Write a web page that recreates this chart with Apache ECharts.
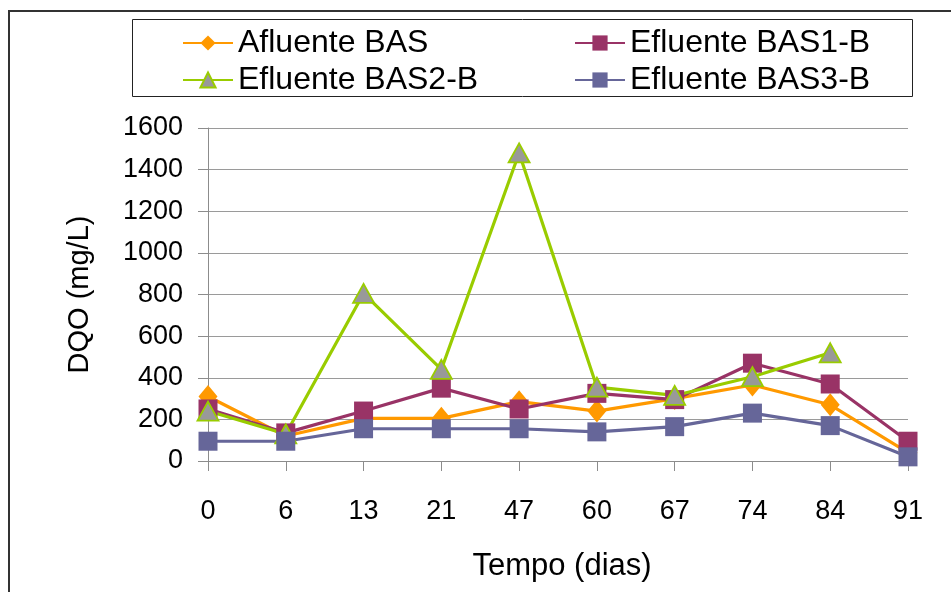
<!DOCTYPE html>
<html>
<head>
<meta charset="utf-8">
<script src="https://cdn.jsdelivr.net/npm/echarts@6/dist/echarts.min.js"></script>
<style>
  html, body { margin: 0; padding: 0; background: #fff; }
  #chart { width: 951px; height: 592px; }
</style>
</head>
<body>
<div id="chart"></div>
<script>
// Sampling days
const days = ['0', '6', '13', '21', '47', '60', '67', '74', '84', '91'];

// DQO (mg/L) per sample
const afluenteBAS   = [310, 120, 205, 205, 285, 240, 300, 365, 270, 40];
const efluenteBAS1B = [250, 135, 240, 350, 250, 325, 295, 470, 370, 95];
const efluenteBAS2B = [240, 130, 805, 440, 1480, 355, 315, 405, 520, null];
const efluenteBAS3B = [95, 95, 155, 155, 155, 140, 165, 230, 170, 20];

// Y axis range
const yMin = 0, yMax = 1600, yStep = 200;

const FONT = '"Liberation Sans", Arial, sans-serif';

function lineSeries(name, data, color, symbol, size, fill) {
  return {
    name: name,
    type: 'line',
    data: data,
    symbol: symbol,
    symbolSize: size,
    connectNulls: false,
    lineStyle: { color: color, width: 3.2 },
    itemStyle: { color: fill || color, borderColor: color, borderWidth: fill ? 1.8 : 0 },
    emphasis: { disabled: true },
    animation: false
  };
}

const legendText = { fontFamily: FONT, fontSize: 32, lineHeight: 30, color: '#000' };

const chart = echarts.init(document.getElementById('chart'), null, { renderer: 'canvas' });
chart.setOption({
  backgroundColor: '#fff',
  animation: false,
  grid: { left: 208, right: 43, top: 128, bottom: 131, containLabel: false },
  legend: [
    {
      data: ['Afluente BAS', 'Efluente BAS2-B'],
      orient: 'vertical', left: 177, top: 22,
      itemWidth: 50, itemHeight: 19, itemGap: 5,
      textStyle: legendText, selectedMode: false
    },
    {
      data: ['Efluente BAS1-B', 'Efluente BAS3-B'],
      orient: 'vertical', left: 569, top: 22,
      itemWidth: 50, itemHeight: 19, itemGap: 5,
      textStyle: legendText, selectedMode: false
    }
  ],
  xAxis: {
    type: 'category',
    data: days,
    boundaryGap: false,
    name: 'Tempo (dias)',
    nameLocation: 'middle',
    nameGap: 90,
    nameTextStyle: { fontFamily: FONT, fontSize: 31, color: '#000', padding: [0, 0, 0, 8] },
    axisLine: { lineStyle: { color: '#8c8c8c', width: 1 } },
    axisTick: { show: true, length: 10, alignWithLabel: true, lineStyle: { color: '#8c8c8c' } },
    axisLabel: { fontFamily: FONT, fontSize: 27, color: '#000', margin: 37 },
    splitLine: { show: false }
  },
  yAxis: {
    type: 'value',
    min: yMin, max: yMax, interval: yStep,
    name: 'DQO (mg/L)',
    nameLocation: 'middle',
    nameGap: 114,
    nameTextStyle: { fontFamily: FONT, fontSize: 29, color: '#000' },
    axisLine: { show: true, lineStyle: { color: '#8c8c8c', width: 1 } },
    axisTick: { show: true, length: 10, lineStyle: { color: '#8c8c8c' } },
    axisLabel: { fontFamily: FONT, fontSize: 27, color: '#000', margin: 25, formatter: v => String(v) },
    splitLine: { show: true, lineStyle: { color: '#9a9a9a', width: 1 } }
  },
  series: [
    lineSeries('Afluente BAS', afluenteBAS, '#FF9900', 'diamond', [19, 23]),
    lineSeries('Efluente BAS1-B', efluenteBAS1B, '#993366', 'rect', 19),
    lineSeries('Efluente BAS2-B', efluenteBAS2B, '#99CC00', 'triangle', [21, 19], '#999999'),
    lineSeries('Efluente BAS3-B', efluenteBAS3B, '#666699', 'rect', 19)
  ],
  graphic: [
    {
      type: 'rect', silent: true, z: -1,
      shape: { x: 9, y: 11, width: 1000, height: 700 },
      style: { fill: 'none', stroke: '#333', lineWidth: 2 }
    },
    {
      type: 'rect', silent: true,
      shape: { x: 132.5, y: 19.5, width: 780, height: 77 },
      style: { fill: 'none', stroke: '#222', lineWidth: 1 }
    }
  ]
});
</script>
</body>
</html>
